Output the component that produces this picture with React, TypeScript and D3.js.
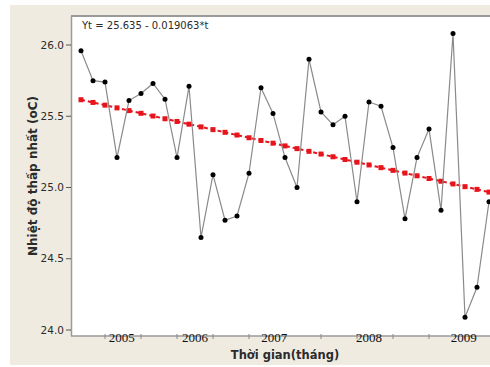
import { type FC, useEffect, useRef } from 'react';
import * as d3 from 'd3';

// nhiet do thap nhat theo thang (35 diem)
const values = [
  25.96, 25.75, 25.74, 25.21, 25.61, 25.66, 25.73, 25.62, 25.21, 25.71,
  24.65, 25.09, 24.77, 24.8, 25.1, 25.7, 25.52, 25.21, 25.0, 25.9,
  25.53, 25.44, 25.5, 24.9, 25.6, 25.57, 25.28, 24.78, 25.21, 25.41,
  24.84, 26.08, 24.09, 24.3, 24.9,
];
const trendA = 25.635;
const trendB = 0.019063;
const yTicks = [24.0, 24.5, 25.0, 25.5, 26.0];
const years = ['2005', '2006', '2007', '2008', '2009'];
// vi tri nhan nam theo chi so t
const yearPos = [4.4, 10.5, 17.1, 25, 32.9];
// vach chia tren truc x (moi 3 thang)
const xTickPos = d3.range(3, 36, 3);

const W = 490;
const H = 367;
const plot = { left: 72, right: 490, top: 17, bottom: 336 };
const bg = '#efebe1';
const axisColor = '#9a9a9a';
const textColor = '#2b2b2b';
const lineColor = '#8a8a8a';
const red = '#e8141c';
const sans = 'DejaVu Sans, Tahoma, sans-serif';

const Chart: FC = () => {
  const ref = useRef<SVGSVGElement>(null);

  useEffect(() => {
    const svg = d3.select(ref.current);
    svg.selectAll('*').remove();

    const x = d3.scaleLinear().domain([1, 35]).range([81, 489]);
    const y = d3.scaleLinear().domain([24, 26]).range([330, 45]);

    // nen
    svg.append('rect').attr('x', 10).attr('y', 5).attr('width', W - 10).attr('height', 360).attr('fill', bg);
    svg
      .append('rect')
      .attr('x', plot.left)
      .attr('y', plot.top)
      .attr('width', plot.right - plot.left)
      .attr('height', plot.bottom - plot.top)
      .attr('fill', '#fff');

    // khung tren
    svg
      .append('line')
      .attr('x1', plot.left - 1)
      .attr('x2', W)
      .attr('y1', 16)
      .attr('y2', 16)
      .attr('stroke', axisColor)
      .attr('stroke-width', 2);

    // truc trai
    svg
      .append('line')
      .attr('x1', plot.left - 0.5)
      .attr('x2', plot.left - 0.5)
      .attr('y1', plot.top - 1)
      .attr('y2', plot.bottom)
      .attr('stroke', axisColor)
      .attr('stroke-width', 1.5);
    // truc duoi
    svg
      .append('line')
      .attr('x1', plot.left - 1)
      .attr('x2', plot.right)
      .attr('y1', plot.bottom)
      .attr('y2', plot.bottom)
      .attr('stroke', axisColor)
      .attr('stroke-width', 1.5);

    // vach va nhan truc y
    const yt = svg.append('g');
    yTicks.forEach((v) => {
      yt.append('line')
        .attr('x1', plot.left - 6)
        .attr('x2', plot.left - 1)
        .attr('y1', y(v))
        .attr('y2', y(v))
        .attr('stroke', '#555')
        .attr('stroke-width', 1);
      yt.append('text')
        .attr('x', plot.left - 8)
        .attr('y', y(v))
        .attr('dy', '0.35em')
        .attr('text-anchor', 'end')
        .attr('font-family', sans)
        .attr('font-size', 10.5)
        .attr('fill', textColor)
        .text(d3.format('.1f')(v));
    });

    // vach truc x
    xTickPos.forEach((t) => {
      svg
        .append('line')
        .attr('x1', x(t))
        .attr('x2', x(t))
        .attr('y1', plot.bottom - 2)
        .attr('y2', plot.bottom + 3)
        .attr('stroke', '#888')
        .attr('stroke-width', 1);
    });

    // nhan nam
    years.forEach((label, i) => {
      svg
        .append('text')
        .attr('x', x(yearPos[i]))
        .attr('y', 342)
        .attr('text-anchor', 'middle')
        .attr('font-family', 'Liberation Serif, Times New Roman, serif')
        .attr('font-size', 13)
        .attr('fill', '#111')
        .text(label);
    });

    // duong xu huong
    const trend = values.map((_, i) => trendA - trendB * (i + 1));
    const line = d3
      .line<number>()
      .x((_, i) => x(i + 1))
      .y((d) => y(d));
    svg
      .append('path')
      .datum(trend)
      .attr('d', line)
      .attr('fill', 'none')
      .attr('stroke', red)
      .attr('stroke-width', 2)
      .attr('stroke-dasharray', '4,3');
    svg
      .selectAll('rect.tr')
      .data(trend)
      .join('rect')
      .attr('class', 'tr')
      .attr('x', (_, i) => x(i + 1) - 2.5)
      .attr('y', (d) => y(d) - 2.5)
      .attr('width', 5)
      .attr('height', 5)
      .attr('fill', red);

    // chuoi du lieu
    svg
      .append('path')
      .datum(values)
      .attr('d', line)
      .attr('fill', 'none')
      .attr('stroke', lineColor)
      .attr('stroke-width', 1.2);
    svg
      .selectAll('circle.pt')
      .data(values)
      .join('circle')
      .attr('class', 'pt')
      .attr('cx', (_, i) => x(i + 1))
      .attr('cy', (d) => y(d))
      .attr('r', 2.5)
      .attr('fill', '#000');

    // phuong trinh
    svg
      .append('text')
      .attr('x', 82)
      .attr('y', 29)
      .attr('font-family', sans)
      .attr('font-size', 10)
      .attr('fill', textColor)
      .text(`Yt = ${trendA} - ${trendB}*t`);

    // tieu de truc
    svg
      .append('text')
      .attr('x', 285)
      .attr('y', 359)
      .attr('text-anchor', 'middle')
      .attr('font-family', sans)
      .attr('font-weight', 'bold')
      .attr('font-size', 11.5)
      .attr('fill', textColor)
      .text('Thời gian(tháng)');
    svg
      .append('text')
      .attr('transform', `translate(37,176) rotate(-90)`)
      .attr('text-anchor', 'middle')
      .attr('font-family', sans)
      .attr('font-weight', 'bold')
      .attr('font-size', 12)
      .attr('fill', textColor)
      .text('Nhiệt độ thấp nhất (oC)');
  }, []);

  return (
    <svg
      ref={ref}
      width={W}
      height={H}
      style={{ position: 'absolute', left: 0, top: 0, background: '#fff' }}
    />
  );
};

export default function App() {
  return <Chart />;
}
